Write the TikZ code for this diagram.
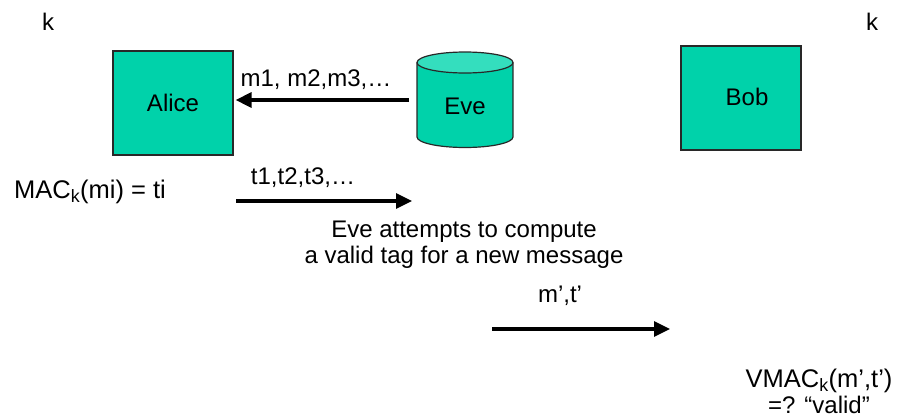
\documentclass[tikz,border=0pt]{standalone}
\usepackage{fontspec}
\setmainfont{Liberation Sans}
\usetikzlibrary{arrows.meta}

\definecolor{party}{RGB}{0,210,170}
\definecolor{partytop}{RGB}{52,222,190}
\definecolor{edge}{RGB}{40,40,40}

\begin{document}
\begin{tikzpicture}[x=1pt, y=-1pt,
    every node/.style={font=\fontsize{24}{26}\selectfont, inner sep=0pt},
    big/.style={font=\fontsize{25.5}{22}\selectfont},
    partybox/.style={draw=edge, line width=1.2pt, fill=party,
                     minimum width=120pt, minimum height=104pt},
    msg/.style={line width=3.2pt, -{Triangle[length=16pt, width=15pt]}},
    lbl/.style={align=center}]
  \useasboundingbox (0,0) rectangle (904,418);

  % shared key on both sides
  \node (kA) at (48,22) {k};
  \node (kB) at (872,22) {k};

  % the two honest parties
  \node[partybox] (alice) at (173,103) {Alice};
  \node[partybox] (bob) at (741,98) {};
  \node (bobname) at (747,97) {Bob};

  % Eve as a cylinder
  \fill[party] (417,62.5) rectangle (513,137);
  \fill[party] (465,137) ellipse [x radius=48, y radius=10.5];
  \draw[edge, line width=1.2pt] (417,62.5) -- (417,137)
      arc [start angle=180, end angle=0, x radius=48, y radius=10.5]
      -- (513,62.5);
  \filldraw[fill=partytop, draw=edge, line width=1.2pt]
      (465,62.5) ellipse [x radius=48, y radius=10.5];
  \node (eve) at (465,106) {Eve};

  % queries: Eve -> Alice
  \coordinate (qstart) at (409,100);
  \coordinate (qend) at ([xshift=2pt]alice.east |- qstart);
  \draw[msg] (qstart) -- (qend);
  \node (qlbl) at (316,80) {m1, m2,m3,…};

  % Alice computes the tags
  \node[big] (mac) at (90,192) {MAC\textsubscript{k}(mi) = ti};

  % tags: Alice -> Eve
  \coordinate (tstart) at (236,201);
  \coordinate (tend) at (412,201);
  \draw[msg] (tstart) -- (tend);
  \node (tlbl) at (303,178) {t1,t2,t3,…};

  \node[lbl] (attempt) at (464,245) {Eve attempts to compute\\a valid tag for a new message};

  % forgery: Eve -> Bob
  \coordinate (fstart) at (492,329);
  \coordinate (fend) at (670,329);
  \draw[msg] (fstart) -- (fend);
  \node (flbl) at (560,296) {m’,t’};

  % Bob verifies
  \node[lbl] (verify) at (819,391) {{\fontsize{25.5}{22}\selectfont VMAC\textsubscript{k}(m’,t’)}\\=? “valid”};
\end{tikzpicture}
\end{document}
